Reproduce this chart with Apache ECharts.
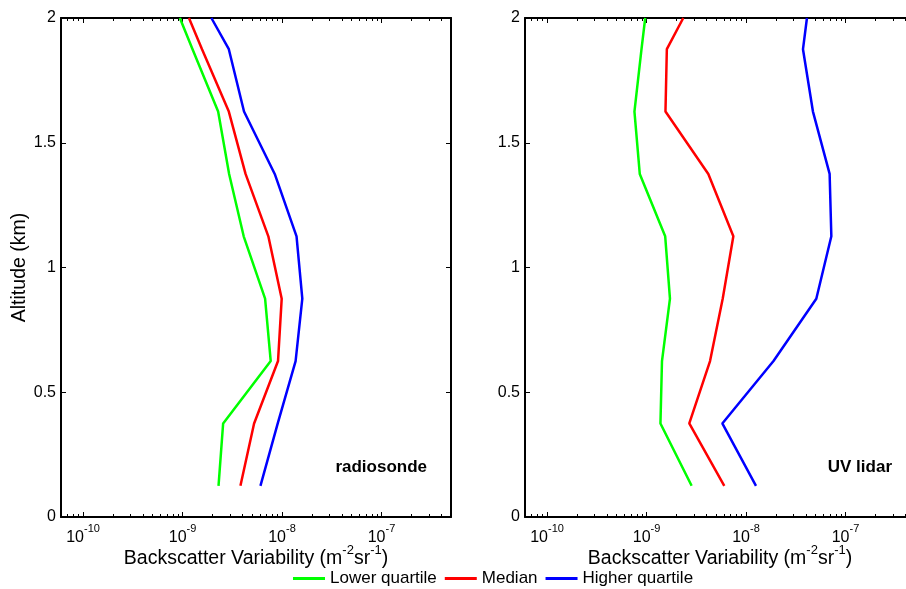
<!DOCTYPE html>
<html>
<head>
<meta charset="utf-8">
<script src="https://cdn.jsdelivr.net/npm/echarts@6/dist/echarts.min.js"></script>
<style>
  html, body { margin: 0; padding: 0; background: #fff; }
  #chart { width: 906px; height: 589px; }
</style>
</head>
<body>
<div id="chart"></div>
<script>
// Altitude levels (km) of the profiles
const altitude = [0.125, 0.375, 0.625, 0.875, 1.125, 1.375, 1.625, 1.875, 2.0];

// Backscatter variability (m^-2 sr^-1), radiosonde panel
const radiosondeLower  = [2.30e-9, 2.56e-9, 7.7e-9, 6.76e-9, 4.12e-9, 2.94e-9, 2.28e-9, 1.26e-9, 9.4e-10];
const radiosondeMedian = [3.82e-9, 5.24e-9, 9.12e-9, 9.93e-9, 7.29e-9, 4.30e-9, 2.92e-9, 1.57e-9, 1.16e-9];
const radiosondeHigher = [6.07e-9, 9.06e-9, 1.37e-8, 1.60e-8, 1.40e-8, 8.45e-9, 4.15e-9, 2.92e-9, 1.95e-9];

// Backscatter variability (m^-2 sr^-1), UV lidar panel
const lidarLower  = [2.84e-9, 1.38e-9, 1.43e-9, 1.72e-9, 1.54e-9, 8.55e-10, 7.56e-10, 8.9e-10, 9.7e-10];
const lidarMedian = [6.05e-9, 2.69e-9, 4.35e-9, 5.83e-9, 7.46e-9, 4.18e-9, 1.55e-9, 1.60e-9, 2.34e-9];
const lidarHigher = [1.26e-8, 5.78e-9, 1.89e-8, 5.09e-8, 7.21e-8, 6.93e-8, 4.71e-8, 3.74e-8, 4.10e-8];

// Axis settings
const xMin = 6e-11, xMax = 5e-7;
const xMajorExponents = [-10, -9, -8, -7];
const minorMultipliers = [2, 3, 4, 5, 6, 7, 8, 9];
const minorDecades = [-11, -10, -9, -8, -7];
const yTicks = [0, 0.5, 1, 1.5, 2];

const seriesNames = ['Lower quartile', 'Median', 'Higher quartile'];
const seriesColors = ['#00ff00', '#ff0000', '#0000ff'];
const panelTitles = ['radiosonde', 'UV lidar'];

const FONT = '"Liberation Sans", Arial, Helvetica, sans-serif';

const logMin = Math.log10(xMin), logMax = Math.log10(xMax);
const minorLog = [];
minorDecades.forEach(function (d) {
  minorMultipliers.forEach(function (m) {
    const v = Math.log10(m) + d;
    if (v > logMin && v < logMax) minorLog.push(v);
  });
});

function pairs(xs) { return xs.map(function (v, i) { return [v, altitude[i]]; }); }

const chart = echarts.init(document.getElementById('chart'), null, { renderer: 'canvas' });

const grids = [
  { left: 61, top: 18, width: 390, height: 499, outerBoundsMode: 'none' },
  { left: 525, top: 18, width: 390, height: 499, outerBoundsMode: 'none' }
];

const axisLineStyle = { color: '#000', width: 2 };

const xAxes = [];
const yAxes = [];
grids.forEach(function (g, gi) {
  // bottom log axis carrying data, decade ticks and labels
  xAxes.push({
    type: 'log', logBase: 10, gridIndex: gi, position: 'bottom',
    min: xMin, max: xMax,
    axisLine: { show: true, onZero: false, lineStyle: axisLineStyle },
    axisTick: { show: true, inside: true, length: 5, lineStyle: { color: '#000', width: 1 } },
    splitLine: { show: false },
    axisLabel: {
      show: true, margin: 6, showMinLabel: false, showMaxLabel: false,
      formatter: function (v) {
        const e = Math.round(Math.log10(v));
        return '{b|10}{s|' + e + '}';
      },
      rich: {
        b: { fontSize: 16, fontFamily: FONT, color: '#000', lineHeight: 29, verticalAlign: 'middle' },
        s: { fontSize: 11, fontFamily: FONT, color: '#000', lineHeight: 11, verticalAlign: 'top' }
      }
    },
    name: '{t|Backscatter Variability (m}{s|-2}{t|sr}{s|-1}{t|)}',
    nameLocation: 'middle', nameGap: 27, nameMoveOverlap: false,
    nameTextStyle: {
      rich: {
        t: { fontSize: 19.5, fontFamily: FONT, color: '#000', lineHeight: 30, verticalAlign: 'middle' },
        s: { fontSize: 13, fontFamily: FONT, color: '#000', lineHeight: 12, verticalAlign: 'top' }
      }
    }
  });
  // bottom minor ticks (log10 space)
  xAxes.push({
    type: 'value', gridIndex: gi, position: 'bottom', min: logMin, max: logMax,
    axisLine: { show: false, onZero: false },
    axisTick: { show: true, inside: true, length: 3, customValues: minorLog, lineStyle: { color: '#000', width: 1 } },
    axisLabel: { show: false }, splitLine: { show: false }
  });
  // top decade ticks
  xAxes.push({
    type: 'value', gridIndex: gi, position: 'top', min: logMin, max: logMax,
    axisLine: { show: true, onZero: false, lineStyle: axisLineStyle },
    axisTick: { show: true, inside: true, length: 5, customValues: xMajorExponents, lineStyle: { color: '#000', width: 1 } },
    axisLabel: { show: false }, splitLine: { show: false }
  });
  // top minor ticks
  xAxes.push({
    type: 'value', gridIndex: gi, position: 'top', min: logMin, max: logMax,
    axisLine: { show: false, onZero: false },
    axisTick: { show: true, inside: true, length: 3, customValues: minorLog, lineStyle: { color: '#000', width: 1 } },
    axisLabel: { show: false }, splitLine: { show: false }
  });

  yAxes.push({
    type: 'value', gridIndex: gi, position: 'left', min: 0, max: 2,
    axisLine: { show: true, onZero: false, lineStyle: axisLineStyle },
    axisTick: { show: true, inside: true, length: 5, customValues: yTicks, lineStyle: { color: '#000', width: 1 } },
    axisLabel: { show: true, margin: 5, fontSize: 16, fontFamily: FONT, color: '#000', customValues: yTicks },
    splitLine: { show: false },
    name: gi === 0 ? 'Altitude (km)' : '',
    nameLocation: 'middle', nameRotate: 90, nameGap: 31, nameMoveOverlap: false,
    nameTextStyle: { fontSize: 19.5, fontFamily: FONT, color: '#000' }
  });
  yAxes.push({
    type: 'value', gridIndex: gi, position: 'right', min: 0, max: 2,
    axisLine: { show: true, onZero: false, lineStyle: axisLineStyle },
    axisTick: { show: true, inside: true, length: 5, customValues: yTicks, lineStyle: { color: '#000', width: 1 } },
    axisLabel: { show: false }, splitLine: { show: false }
  });
});

const panelData = [
  [radiosondeLower, radiosondeMedian, radiosondeHigher],
  [lidarLower, lidarMedian, lidarHigher]
];

const series = [];
panelData.forEach(function (sets, gi) {
  sets.forEach(function (vals, si) {
    series.push({
      type: 'line', name: seriesNames[si],
      xAxisIndex: gi * 4, yAxisIndex: gi * 2,
      data: pairs(vals),
      symbol: 'none', showSymbol: false,
      lineStyle: { color: seriesColors[si], width: 2.5 },
      itemStyle: { color: seriesColors[si] },
      clip: true, z: 3
    });
  });
});

chart.setOption({
  animation: false,
  backgroundColor: '#fff',
  grid: grids,
  xAxis: xAxes,
  yAxis: yAxes,
  legend: {
    data: seriesNames,
    left: 293, top: 570, padding: 0,
    icon: 'rect', itemWidth: 32, itemHeight: 3, itemGap: 8,
    textStyle: { fontSize: 17, fontFamily: FONT, color: '#000' },
    selectedMode: false
  },
  graphic: [
    { type: 'text', x: 427, y: 467,
      style: { text: panelTitles[0], fill: '#000', font: 'bold 17px ' + FONT, textAlign: 'right', textVerticalAlign: 'middle' } },
    { type: 'text', x: 892, y: 467,
      style: { text: panelTitles[1], fill: '#000', font: 'bold 17px ' + FONT, textAlign: 'right', textVerticalAlign: 'middle' } }
  ],
  series: series
});
</script>
</body>
</html>
